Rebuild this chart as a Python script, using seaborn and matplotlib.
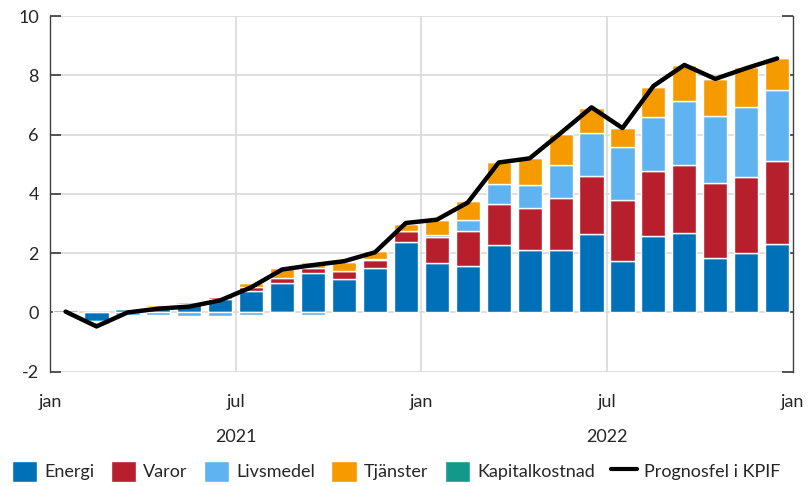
import numpy as np
import pandas as pd
import matplotlib
matplotlib.use("Agg")
import matplotlib.pyplot as plt
import seaborn as sns
from matplotlib.patches import Patch
from matplotlib.lines import Line2D
from matplotlib.transforms import blended_transform_factory

# monthly contributions, jan 2021 - dec 2022
months = pd.date_range("2021-01-01", "2022-12-01", freq="MS")
energi = [-0.03, -0.28, 0.12, 0.20, 0.29, 0.46, 0.74, 1.00, 1.34, 1.13, 1.50, 2.38,
          1.67, 1.58, 2.28, 2.12, 2.10, 2.65, 1.75, 2.57, 2.68, 1.84, 2.01, 2.32]
varor = [0.08, -0.04, 0.00, 0.00, 0.00, 0.05, 0.12, 0.17, 0.16, 0.26, 0.28, 0.38,
         0.88, 1.18, 1.39, 1.40, 1.76, 1.97, 2.05, 2.20, 2.30, 2.53, 2.56, 2.80]
livsmedel = [-0.02, -0.06, -0.10, -0.08, -0.12, -0.12, -0.10, -0.03, -0.07, 0.00, 0.02, 0.00,
             0.08, 0.37, 0.67, 0.79, 1.10, 1.42, 1.78, 1.81, 2.14, 2.27, 2.35, 2.39]
tjanster = [0.00, -0.05, 0.03, 0.05, 0.07, 0.06, 0.14, 0.32, 0.19, 0.30, 0.29, 0.24,
            0.48, 0.62, 0.72, 0.89, 1.07, 0.87, 0.64, 1.02, 1.22, 1.25, 1.35, 1.06]
kapital = [0.00, 0.00, 0.00, 0.00, 0.00, 0.00, 0.00, 0.01, 0.01, 0.01, 0.01, 0.03,
           0.01, 0.04, 0.02, 0.02, 0.03, 0.03, 0.02, 0.02, 0.02, 0.01, 0.02, 0.02]
prognosfel = [0.03, -0.47, 0.00, 0.13, 0.20, 0.41, 0.85, 1.45, 1.60, 1.73, 2.03, 3.02,
              3.13, 3.71, 5.06, 5.20, 6.05, 6.92, 6.22, 7.64, 8.35, 7.88, 8.24, 8.57]

series = {"Energi": energi, "Varor": varor, "Livsmedel": livsmedel,
          "Tjänster": tjanster, "Kapitalkostnad": kapital}
colors = {"Energi": "#0070b8", "Varor": "#b81f2d", "Livsmedel": "#5fb3f0",
          "Tjänster": "#f59b00", "Kapitalkostnad": "#12998a"}

sns.set_theme(style="white")
plt.rcParams["font.family"] = ["Lato", "DejaVu Sans"]

fig = plt.figure(figsize=(8.08, 4.86), dpi=100)
ax = fig.add_axes([0.062, 0.235, 0.919, 0.732])

x = np.arange(len(months))
pos_bottom = np.zeros(len(x))
neg_bottom = np.zeros(len(x))
for name, vals in series.items():
    vals = np.array(vals)
    bottom = np.where(vals >= 0, pos_bottom, neg_bottom)
    ax.bar(x, vals, bottom=bottom, width=0.78, color=colors[name], zorder=3)
    pos_bottom = pos_bottom + np.clip(vals, 0, None)
    neg_bottom = neg_bottom + np.clip(vals, None, 0)

line_df = pd.DataFrame({"x": x, "y": prognosfel})
sns.lineplot(data=line_df, x="x", y="y", color="black", linewidth=3.2, ax=ax, zorder=4)

ax.set_xlim(-0.5, 23.5)
ax.set_ylim(-2, 10)
ax.set_yticks(range(-2, 11, 2))
ax.set_yticklabels([str(v) for v in range(-2, 11, 2)], fontsize=13)
ax.set_xticks([-0.5, 5.5, 11.5, 17.5, 23.5])
ax.set_xticklabels(["jan", "jul", "jan", "jul", "jan"], fontsize=13)
ax.set_xlabel("")
ax.set_ylabel("")
ax.tick_params(axis="x", length=0, pad=16)
ax.tick_params(axis="y", direction="in", length=8, color="#404040", right=True, left=True, pad=8)

ax.grid(True, axis="y", color="#d9d9d9", linewidth=1.2, zorder=0)
for xv in [5.5, 11.5, 17.5]:
    ax.axvline(xv, color="#d9d9d9", linewidth=1.2, zorder=0)

for side in ["top", "bottom"]:
    ax.spines[side].set_visible(False)
for side in ["left", "right"]:
    ax.spines[side].set_color("#404040")
    ax.spines[side].set_linewidth(1.0)

trans = blended_transform_factory(ax.transData, fig.transFigure)
ax.text(5.5, 0.1, "2021", transform=trans, ha="center", va="center", fontsize=13)
ax.text(17.5, 0.1, "2022", transform=trans, ha="center", va="center", fontsize=13)

handles = [Patch(facecolor=colors[n], label=n) for n in series]
handles.append(Line2D([0], [0], color="black", linewidth=3, label="Prognosfel i KPIF"))
fig.legend(handles=handles, loc="lower center", bbox_to_anchor=(0.49, -0.025), ncol=6,
           frameon=False, fontsize=13, handlelength=1.4, handleheight=1.4,
           handletextpad=0.4, columnspacing=0.9)

fig.savefig("out.png", dpi=100)
